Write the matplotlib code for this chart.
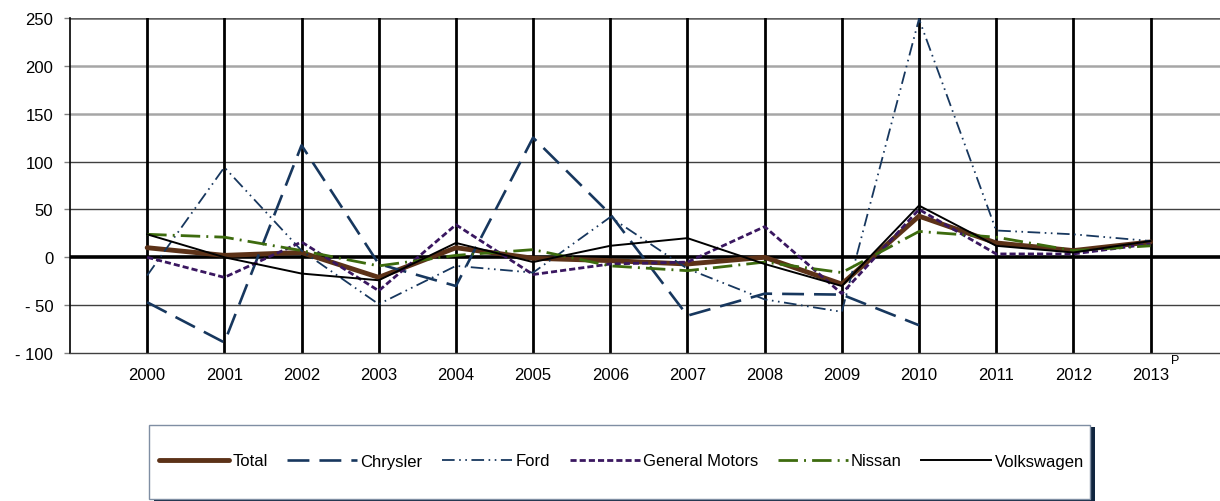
import numpy as np
import matplotlib.pyplot as plt
from matplotlib.patches import Rectangle

# ============================
# DATA
# ============================

years = ["2000", "2001", "2002", "2003", "2004", "2005", "2006",
         "2007", "2008", "2009", "2010", "2011", "2012", "2013"]

total = [10, 2, 5, -21, 10, -1, -3.5, -7, 0, -28, 43, 15, 7, 16]
chrysler = [-47, -89, 117, -7, -30, 125, 45, -61, -38, -39, -71,
            None, None, None]
ford = [-19, 94, 7, -49, -9, -16, 42, -12, -44, -57, 249, 28, 24, 17]
general_motors = [0, -21, 16, -35, 34, -18, -7, -5, 32, -38, 50, 3.5, 3.5, 14]
nissan = [24, 21, 7, -9, 2, 8, -9, -14, -5, -16, 27, 21, 7, 12]
volkswagen = [24, 0, -17, -24, 15, -5, 12, 20, -7, -30, 54, 12, 5, 17]

y_ticks = [-100, -50, 0, 50, 100, 150, 200, 250]
y_tick_labels = ["- 100", "- 50", "0", "50", "100", "150", "200", "250"]

# ============================
# FIGURE
# ============================

plt.rcParams['font.family'] = ['Liberation Sans', 'DejaVu Sans']

W, H = 1220, 502
fig = plt.figure(figsize=(W / 100, H / 100), dpi=100)
ax = fig.add_axes([70 / W, 1 - 354 / H, 1 - 70 / W, 335 / H])

x = np.arange(len(years))


def to_arr(vals):
    return np.array([np.nan if v is None else v for v in vals], dtype=float)


ax.plot(x, to_arr(total), color="#5c3218", lw=3.5, label="Total",
        solid_capstyle="round", zorder=3)
ax.plot(x, to_arr(chrysler), color="#17375e", lw=1.9, dashes=(8.3, 3.8),
        label="Chrysler", zorder=4)
ax.plot(x, to_arr(ford), color="#17375e", lw=1.3,
        dashes=(7, 2.5, 0.9, 2.5, 0.9, 2.5), label="Ford", zorder=4)
ax.plot(x, to_arr(general_motors), color="#3a1760", lw=2.0, dashes=(2.2, 1.1),
        label="General Motors", zorder=5)
ax.plot(x, to_arr(nissan), color="#3d6b0e", lw=2.0, dashes=(7, 2.2, 0.7, 2.2),
        label="Nissan", zorder=5)
ax.plot(x, to_arr(volkswagen), color="black", lw=1.4, label="Volkswagen",
        zorder=6)

# vertical category lines
for xi in x:
    ax.axvline(xi, color="black", lw=2.0, zorder=1)

# horizontal grid
grid_style = {250: ("#606060", 1.8), 200: ("#a6a6a6", 1.8), 150: ("#a6a6a6", 1.8),
              100: ("#404040", 1.0), 50: ("#404040", 1.0), -50: ("#404040", 1.0)}
for yv, (c, w) in grid_style.items():
    ax.axhline(yv, color=c, lw=w, zorder=0.5)
ax.axhline(0, color="black", lw=2.6, zorder=2)

ax.set_xlim(-1, 13.9)
ax.set_ylim(-100, 250)
ax.set_xticks(x)
ax.set_xticklabels(years, fontsize=12)
ax.set_yticks(y_ticks)
ax.set_yticklabels(y_tick_labels, fontsize=12)
ax.tick_params(axis="x", length=0, pad=10)
ax.tick_params(axis="y", length=4, width=1, color="#808080", pad=8)

for side in ["top", "right"]:
    ax.spines[side].set_visible(False)
ax.spines["left"].set_color("black")
ax.spines["left"].set_linewidth(1.2)
ax.spines["bottom"].set_color("#404040")
ax.spines["bottom"].set_linewidth(1.0)

# projected marker on 2013
ax.annotate("P", xy=(13, -100), xytext=(15, -1), textcoords="offset points",
            fontsize=9, ha="left", va="top")

# ============================
# LEGEND (box drawn by hand)
# ============================

bx0, by0, bx1, by1 = 149, 426, 1090, 500
fig.patches.append(Rectangle(((bx0 + 5) / W, 1 - (by1 + 2) / H),
                             (bx1 - bx0) / W, (by1 - by0) / H,
                             transform=fig.transFigure, facecolor="#10253f",
                             edgecolor="none", zorder=1))
fig.patches.append(Rectangle((bx0 / W, 1 - by1 / H),
                             (bx1 - bx0) / W, (by1 - by0) / H,
                             transform=fig.transFigure, facecolor="white",
                             edgecolor="#7f8ea3", lw=1.0, zorder=2))

leg = fig.legend(loc="center",
                 bbox_to_anchor=(159 / W, 1 - 475 / H, (1084 - 159) / W, 26 / H),
                 mode="expand", ncol=6, fontsize=12, handlelength=4.2,
                 handletextpad=0.2, borderpad=0, borderaxespad=0,
                 frameon=False)
leg.set_zorder(3)

fig.savefig("out.png", dpi=100)
